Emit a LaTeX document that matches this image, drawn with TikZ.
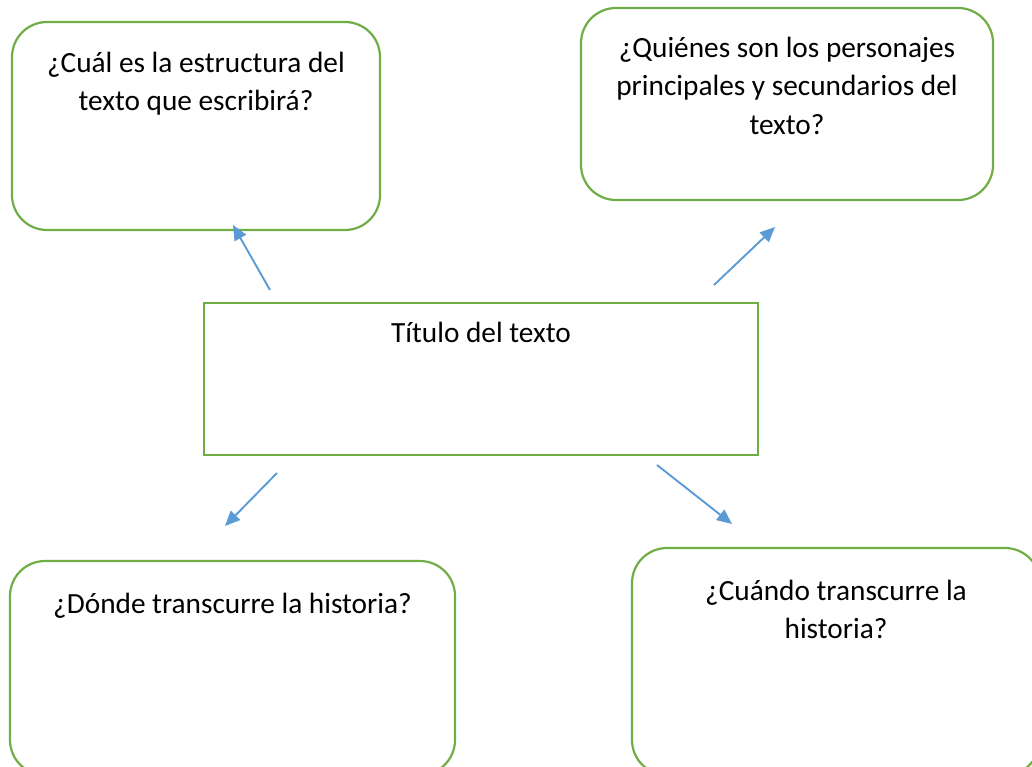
\documentclass[tikz,border=0pt]{standalone}
\usepackage{fontspec}
\setmainfont{Carlito}
\usetikzlibrary{positioning,arrows.meta}
\definecolor{boxgreen}{HTML}{70AD47}
\definecolor{arrowblue}{HTML}{5B9BD5}
\tikzset{
  qbox/.style={draw=boxgreen, line width=2.2pt, rounded corners=35pt, inner sep=0pt},
  tbox/.style={draw=boxgreen, line width=2.2pt, inner sep=0pt},
  qtext/.style={align=center, inner sep=0pt, font=\fontsize{29.3}{38.5}\selectfont},
  arr/.style={arrowblue, line width=1.9pt, -{Triangle[length=15pt,width=13pt]}}
}
\begin{document}
\begin{tikzpicture}[x=1pt,y=-1pt]
  \useasboundingbox (0,0) rectangle (1032,767);
  \clip (0,0) rectangle (1032,767);

  \node[qbox, minimum width=368pt, minimum height=208pt] (cual) at (196,126) {};
  \node[qbox, minimum width=412pt, minimum height=192pt] (quienes) at (787,104) {};
  \node[tbox, minimum width=554pt, minimum height=152pt] (titulo) at (481,379) {};
  \node[qbox, minimum width=445pt, minimum height=214pt] (donde) at (232.5,668) {};
  \node[qbox, minimum width=408pt, minimum height=227pt] (cuando) at (836,661.5) {};

  \node[qtext, below=31pt of cual.north] (cualtxt) {¿Cuál es la estructura del\\texto que escribirá?};
  \node[qtext, below=30pt of quienes.north] (quienestxt) {¿Quiénes son los personajes\\principales y secundarios del\\texto?};
  \node[qtext, below=20pt of titulo.north] (titulotxt) {Título del texto};
  \node[qtext, below=33pt of donde.north] (dondetxt) {¿Dónde transcurre la historia?};
  \node[qtext, below=33pt of cuando.north] (cuandotxt) {¿Cuándo transcurre la\\historia?};

  \coordinate (s1) at (270,290);
  \coordinate (e1) at (233,225);
  \coordinate (s2) at (714,285);
  \coordinate (e2) at (775,227);
  \coordinate (s3) at (277,473);
  \coordinate (e3) at (225,526);
  \coordinate (s4) at (657,465);
  \coordinate (e4) at (732,524);

  \draw[arr] (s1) -- (e1);
  \draw[arr] (s2) -- (e2);
  \draw[arr] (s3) -- (e3);
  \draw[arr] (s4) -- (e4);
\end{tikzpicture}
\end{document}
